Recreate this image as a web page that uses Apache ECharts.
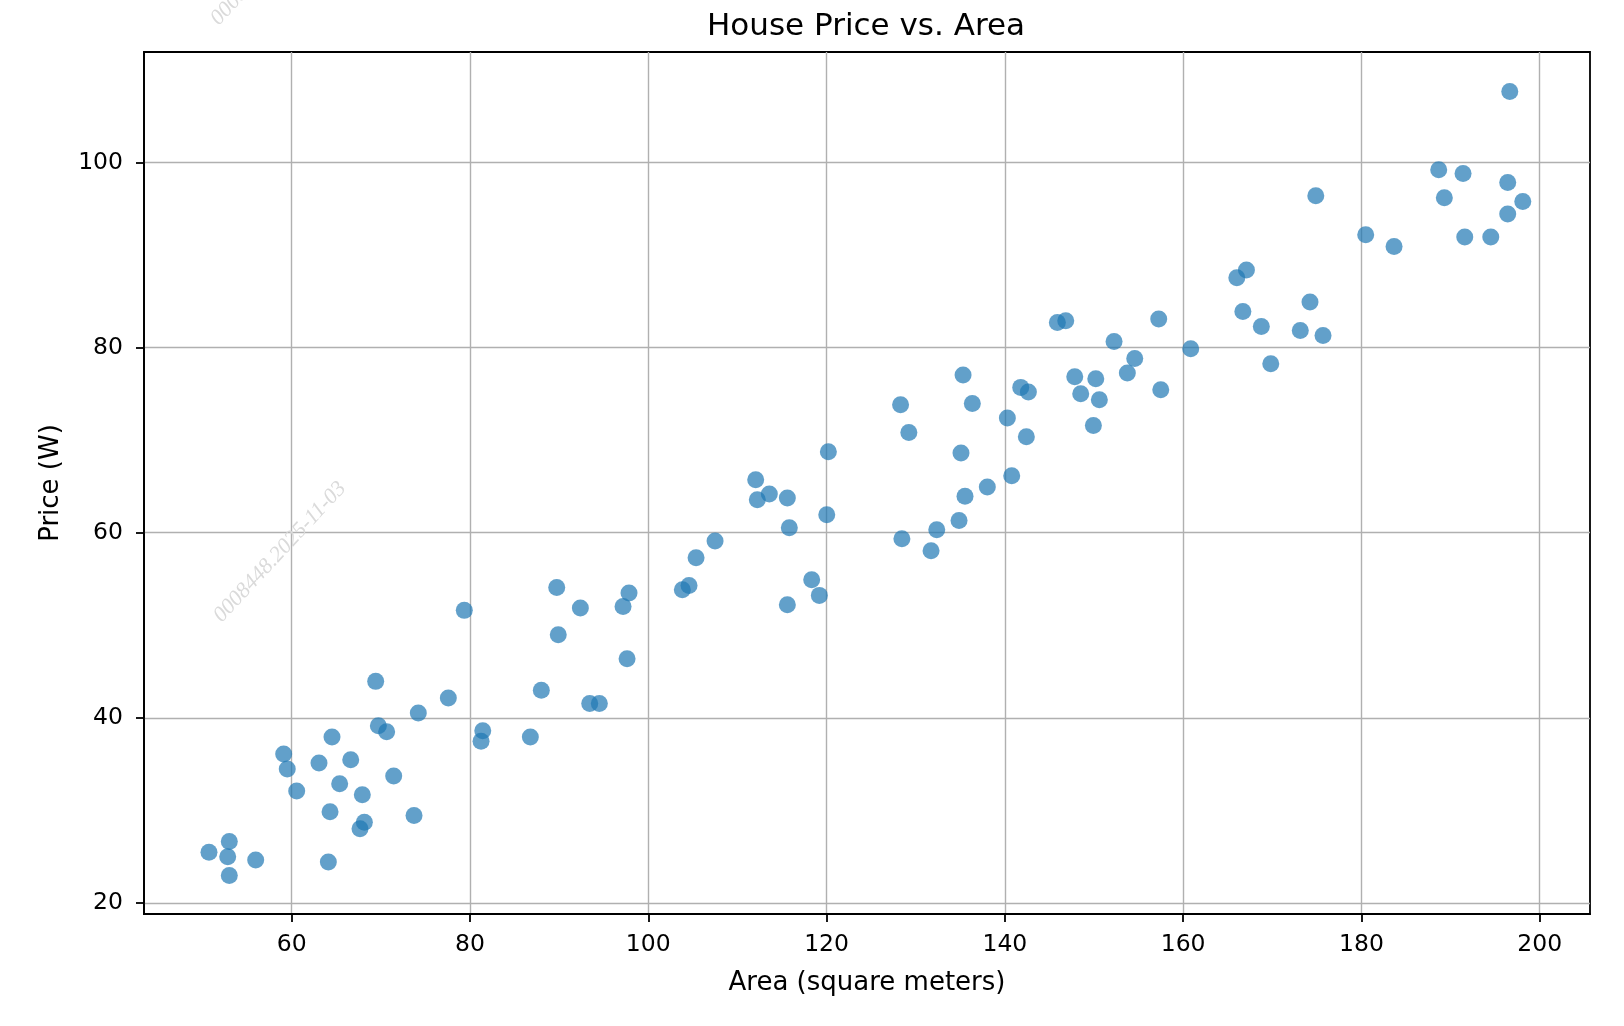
<!DOCTYPE html>
<html>
<head>
<meta charset="utf-8">
<script src="https://cdn.jsdelivr.net/npm/echarts@6/dist/echarts.min.js"></script>
<style>
  html, body { margin: 0; padding: 0; background: #fff; }
  #chart { width: 1624px; height: 1026px; }
</style>
</head>
<body>
<div id="chart"></div>
<script>
// ---- data ----
const areaValues = [
  69.42, 77.57, 74.20, 69.72, 70.65, 64.52, 59.10, 59.50, 63.06, 66.62,
  71.44, 65.38, 60.56, 67.92, 64.30, 73.72, 68.15, 67.66, 53.00, 50.72,
  52.82, 55.96, 64.11, 53.00, 81.43, 81.24, 79.36,
  128.30, 129.23, 120.20, 112.05, 113.58, 112.23, 115.60, 120.02, 115.82, 128.45,
  107.49, 105.36, 118.33, 104.57, 103.82, 119.19, 115.60, 89.73, 97.84, 92.38,
  97.17, 89.90, 97.62, 88.00, 93.43, 94.51, 86.77,
  145.89, 146.83, 157.26, 152.25, 160.85, 154.57, 153.74, 147.84, 150.20, 148.51,
  150.60, 157.49, 149.93, 141.78, 142.64, 135.31, 136.35, 140.28, 142.41, 135.08,
  140.77, 138.03, 135.53, 134.86, 132.36, 131.72,
  196.64, 188.67, 191.40, 196.41, 198.10, 189.30, 174.88, 196.41, 191.59, 194.51,
  180.48, 183.66, 167.10, 166.02, 166.70, 174.23, 168.77, 173.14, 175.69, 169.83
];
const priceValues = [
  43.94, 42.14, 40.52, 39.15, 38.50, 37.93, 36.10, 34.47, 35.12, 35.48,
  33.72, 32.89, 32.10, 31.70, 29.86, 29.46, 28.71, 28.03, 26.65, 25.47,
  25.00, 24.64, 24.43, 22.98, 38.61, 37.46, 51.61,
  73.83, 70.83, 68.75, 65.73, 64.18, 63.56, 63.75, 61.94, 60.54, 59.35,
  59.10, 57.30, 54.92, 54.30, 53.84, 53.23, 52.22, 54.09, 53.49, 51.86,
  52.04, 48.98, 46.39, 42.97, 41.56, 41.56, 37.93,
  82.72, 82.90, 83.08, 80.66, 79.88, 78.83, 77.25, 76.85, 76.64, 75.01,
  74.37, 75.45, 71.59, 75.70, 75.20, 77.03, 73.97, 72.39, 70.37, 68.61,
  66.16, 64.94, 63.93, 61.33, 60.32, 58.06,
  107.67, 99.21, 98.81, 97.84, 95.79, 96.19, 96.40, 94.42, 91.94, 91.94,
  92.19, 90.93, 88.37, 87.55, 83.90, 84.92, 82.28, 81.85, 81.31, 78.26
];
const xTickValues = [60, 80, 100, 120, 140, 160, 180, 200];
const yTickValues = [20, 40, 60, 80, 100];
const xRange = [43.43, 205.64];
const yRange = [18.81, 111.93];
const chartTitle = 'House Price vs. Area';
const xAxisName = 'Area (square meters)';
const yAxisName = 'Price (W)';
const watermarkText = '0008448.2025-11-03';

const points = areaValues.map((a, i) => [a, priceValues[i]]);

const FONT = '"DejaVu Sans", sans-serif';
const chart = echarts.init(document.getElementById('chart'), null, { renderer: 'canvas' });

function axisCommon(ticks) {
  return {
    type: 'value',
    axisLine: { show: true, onZero: false, lineStyle: { color: '#000', width: 1.8 } },
    axisTick: { show: true, inside: false, length: 8, customValues: ticks, lineStyle: { color: '#000', width: 1.8 } },
    axisLabel: { show: true, customValues: ticks, color: '#000', fontSize: 23.5, fontFamily: FONT },
    splitLine: { show: true, lineStyle: { color: '#b0b0b0', width: 1.4 } },
    nameLocation: 'middle',
    nameTextStyle: { color: '#000', fontSize: 26, fontFamily: FONT }
  };
}

const xAxis = axisCommon(xTickValues);
xAxis.min = xRange[0];
xAxis.max = xRange[1];
xAxis.name = xAxisName;
xAxis.nameGap = 56;
xAxis.axisLabel.margin = 19;

const yAxis = axisCommon(yTickValues);
yAxis.min = yRange[0];
yAxis.max = yRange[1];
yAxis.name = yAxisName;
yAxis.nameGap = 80;
yAxis.axisLabel.margin = 21;

chart.setOption({
  animation: false,
  backgroundColor: '#fff',
  title: {
    text: chartTitle,
    left: 861,
    top: 6,
    textAlign: 'center',
    textStyle: { color: '#000', fontSize: 31, fontWeight: 'normal', fontFamily: FONT }
  },
  grid: {
    left: 144, right: 34, top: 52, bottom: 112,
    outerBoundsMode: 'none',
    containLabel: false,
    show: true,
    borderColor: '#000',
    borderWidth: 1.8,
    backgroundColor: 'transparent'
  },
  xAxis: xAxis,
  yAxis: yAxis,
  series: [{
    type: 'scatter',
    data: points,
    symbol: 'circle',
    symbolSize: 17,
    itemStyle: { color: '#1f77b4', opacity: 0.7 },
    emphasis: { disabled: true },
    z: 3
  }],
  graphic: [
    {
      type: 'text', x: 280, y: 552, rotation: 47 * Math.PI / 180, z: 1, silent: true,
      style: { text: watermarkText, font: 'italic 22px "Liberation Serif", serif', fill: '#dadada', align: 'center', verticalAlign: 'middle' }
    },
    {
      type: 'text', x: 277, y: -45, rotation: 47 * Math.PI / 180, z: 1, silent: true,
      style: { text: watermarkText, font: 'italic 22px "Liberation Serif", serif', fill: '#dadada', align: 'center', verticalAlign: 'middle' }
    }
  ]
});
</script>
</body>
</html>
